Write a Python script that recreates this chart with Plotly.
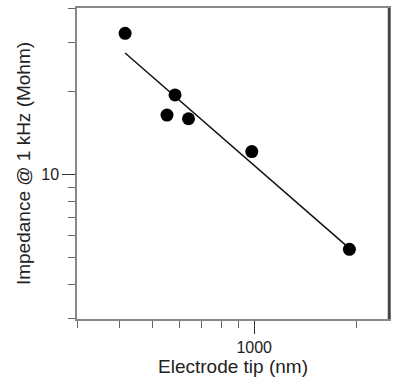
import plotly.graph_objects as go

# Data
tip_nm = [416, 553, 584, 640, 984, 1910]
impedance_mohm = [32.4, 16.4, 19.4, 15.9, 12.1, 5.36]

fit_tip_nm = [416, 1910]
fit_impedance = [27.5, 5.4]

x_major = [1000]
x_major_text = ["1000"]
x_minor = [300, 400, 500, 600, 700, 800, 900, 2000]
y_major = [10]
y_major_text = ["10"]
y_minor = [3, 4, 5, 6, 7, 8, 9, 20, 30, 40]

fig = go.Figure()
fig.add_trace(go.Scatter(x=fit_tip_nm, y=fit_impedance, mode="lines",
                         line=dict(color="#111111", width=1.5),
                         showlegend=False, hoverinfo="skip"))
fig.add_trace(go.Scatter(x=tip_nm, y=impedance_mohm, mode="markers",
                         marker=dict(color="black", size=13),
                         showlegend=False))

font = "Liberation Sans, Arial, sans-serif"
fig.update_layout(
    width=400, height=389,
    margin=dict(l=77, r=11, t=8, b=70, autoexpand=False),
    paper_bgcolor="white", plot_bgcolor="white",
    font=dict(family=font, color="#222222"),
    xaxis=dict(
        type="log", range=[2.4771, 3.3979], automargin=False,
        tickmode="array", tickvals=x_major, ticktext=x_major_text,
        ticks="outside", ticklen=13, tickwidth=1.2, tickcolor="#333333",
        tickfont=dict(size=16, family=font, color="#222222"),
        minor=dict(tickmode="array", tickvals=x_minor, ticks="outside",
                   ticklen=7, tickwidth=1.2, tickcolor="#666666", showgrid=False),
        showgrid=False, zeroline=False,
        showline=True, linecolor="#888888", linewidth=1.5, mirror=True,
        title=dict(text="Electrode tip (nm)", font=dict(size=19, family=font, color="#222222"),
                   standoff=3),
    ),
    yaxis=dict(
        type="log", range=[0.4771, 1.6021], automargin=False,
        tickmode="array", tickvals=y_major, ticktext=y_major_text,
        ticks="outside", ticklen=13, tickwidth=1.2, tickcolor="#333333",
        tickfont=dict(size=16, family=font, color="#222222"),
        minor=dict(tickmode="array", tickvals=y_minor, ticks="outside",
                   ticklen=7, tickwidth=1.2, tickcolor="#666666", showgrid=False),
        showgrid=False, zeroline=False,
        showline=True, linecolor="#888888", linewidth=1.5, mirror=True,
        title=dict(text="Impedance @ 1 kHz (Mohm)", font=dict(size=19, family=font, color="#222222"),
                   standoff=6),
    ),
    shapes=[dict(type="line", xref="paper", yref="paper", x0=1, x1=1, y0=0, y1=1,
                 line=dict(color="#444444", width=2.5))],
)

fig.write_html("out.html", config={"displayModeBar": False},
               post_script="document.body.style.margin='0';")
